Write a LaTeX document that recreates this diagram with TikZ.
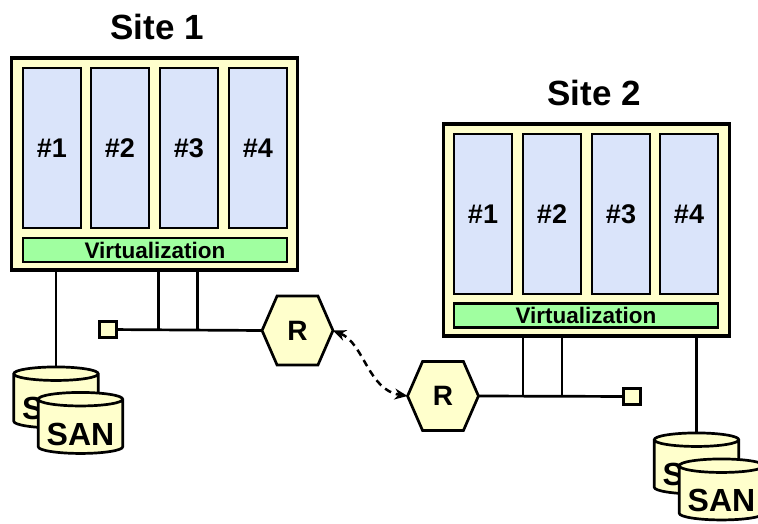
\documentclass[tikz,border=0pt]{standalone}
\usepackage{fontspec}
\setmainfont{Liberation Sans}
\usetikzlibrary{shapes.geometric,arrows.meta,backgrounds}
\definecolor{hostfill}{HTML}{FFFFCC}
\definecolor{vmfill}{HTML}{DAE4FA}
\definecolor{virtfill}{HTML}{A0FFA0}

% hexagonal router outline around a node of the router style
\newcommand\hexoutline[1]{%
  \draw[hexline] (#1.west) -- ([xshift=15pt]#1.north west)
    -- ([xshift=-15pt]#1.north east) -- (#1.east)
    -- ([xshift=-15pt]#1.south east) -- ([xshift=15pt]#1.south west) -- cycle;}

\begin{document}
\begin{tikzpicture}[x=1pt,y=-1pt,
  host/.style={draw,line width=3.2pt,fill=hostfill,minimum width=286pt,minimum height=212pt,inner sep=0pt},
  vm/.style={draw,line width=2.7pt,fill=vmfill,minimum width=58pt,minimum height=160pt,inner sep=0pt,font=\bfseries\fontsize{27}{27}\selectfont},
  virt/.style={draw,line width=2.7pt,fill=virtfill,minimum width=264pt,minimum height=24pt,inner sep=0pt,font=\bfseries\fontsize{22.5}{22.5}\selectfont},
  sitetitle/.style={font=\bfseries\fontsize{35}{35}\selectfont},
  wire/.style={line width=2.7pt},
  port/.style={draw,line width=2.7pt,fill=hostfill,minimum size=16.5pt,inner sep=0pt},
  router/.style={minimum width=70.5pt,minimum height=68.5pt,inner sep=0pt,font=\bfseries\fontsize{28}{28}\selectfont},
  hexline/.style={draw,line width=2.7pt,fill=hostfill,line join=miter},
  disk/.style={cylinder,shape border rotate=90,aspect=0.2,draw,line width=2.7pt,fill=hostfill,minimum width=84.5pt,minimum height=61pt,inner sep=0pt,text height=36pt,text depth=0pt,font=\bfseries\fontsize{32}{32}\selectfont},
  link/.style={line width=2.5pt,dash pattern=on 7pt off 5pt,{Stealth[length=13pt,width=11pt]}-{Stealth[length=13pt,width=11pt]}}
]
\useasboundingbox (0,0) rectangle (758,524);

% ---- Site 1 ----
\node[sitetitle] (t1) at (157,27) {Site 1};
\node[host] (h1) at (154.5,164) {};
\node[vm] (h1v1) at (52,148) {\#1};
\node[vm] (h1v2) at (120,148) {\#2};
\node[vm] (h1v3) at (189,148) {\#3};
\node[vm] (h1v4) at (258,148) {\#4};
\node[virt] (h1virt) at (155,250) {Virtualization};

% ---- Site 2 ----
\node[sitetitle] (t2) at (594,93) {Site 2};
\node[host] (h2) at (586.5,230) {};
\node[vm] (h2v1) at (483,214) {\#1};
\node[vm] (h2v2) at (552,214) {\#2};
\node[vm] (h2v3) at (621,214) {\#3};
\node[vm] (h2v4) at (689,214) {\#4};
\node[virt] (h2virt) at (586,315.5) {Virtualization};

% ---- network ----
\node[router] (r1) at (297.5,330.5) {R};
\node[router] (r2) at (443,396) {R};
\begin{scope}[on background layer]
  \hexoutline{r1}
  \hexoutline{r2}
\end{scope}

\coordinate (j1a) at (158.3,329.5);
\coordinate (j1b) at (197.3,329.5);
\coordinate (j2a) at (523,396);
\coordinate (j2b) at (562,396);

\node[port] (p1) at (108,329.5) {};
\node[port] (p2) at (632,396.5) {};

\draw[wire] (p1) -- (r1.west);
\draw[wire] (h1.south -| j1a) -- (j1a);
\draw[wire] (h1.south -| j1b) -- (j1b);
\draw[wire] (r2.east) -- (p2);
\draw[wire] (h2.south -| j2a) -- (j2a);
\draw[wire] (h2.south -| j2b) -- (j2b);

% ---- storage ----
\node[disk] (d1b) at (56,401.5) {SAN};
\node[disk] (d1f) at (80.5,427) {SAN};
\node[disk] (d2b) at (696.5,467.5) {SAN};
\node[disk] (d2f) at (721.5,493.5) {SAN};
\draw[wire] (h1.south -| d1b.north) -- (d1b.north);
\draw[wire] (h2.south -| d2b.north) -- (d2b.north);

% ---- inter-site link ----
\draw[link] (r1.east) .. controls (364,343) and (368,390) .. (r2.west);
\end{tikzpicture}
\end{document}
